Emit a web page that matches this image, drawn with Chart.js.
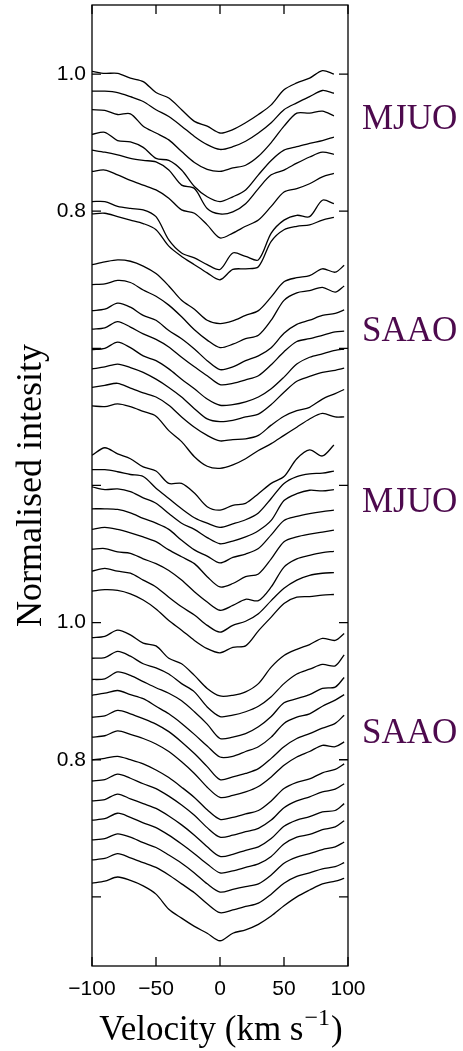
<!DOCTYPE html>
<html>
<head>
<meta charset="utf-8">
<script src="https://cdn.jsdelivr.net/npm/chart.js@4.4.1/dist/chart.umd.min.js"></script>
<style>
  html, body { margin: 0; padding: 0; background: #fff; }
  #wrap { width: 463px; height: 1051px; }
</style>
</head>
<body>
<div id="wrap"><canvas id="myChart" width="463" height="1051"></canvas></div>
<script>
'use strict';

// velocity grid (km/s) of the read-off points
const velocityMjuo = [-100, -90, -80, -70, -60, -50, -40, -30, -20, -10, 0, 10, 20, 30, 40, 50, 60, 70, 80, 89];
const velocitySaao = [-100, -90, -80, -70, -60, -50, -40, -30, -20, -10, 0, 10, 20, 30, 40, 50, 60, 70, 80, 90, 97];

// upper panel, MJUO spectra (normalised intensity incl. offsets)
const mjuoUpper = [
  [1.004, 1.001, 1.001, 0.994, 0.989, 0.973, 0.965, 0.948, 0.931, 0.924, 0.914, 0.919, 0.929, 0.941, 0.955, 0.977, 0.987, 0.994, 1.005, 1.000],
  [0.975, 0.975, 0.973, 0.967, 0.960, 0.948, 0.938, 0.924, 0.909, 0.897, 0.890, 0.894, 0.902, 0.914, 0.929, 0.948, 0.958, 0.967, 0.976, 0.972],
  [0.948, 0.947, 0.941, 0.942, 0.924, 0.914, 0.904, 0.887, 0.871, 0.861, 0.858, 0.863, 0.867, 0.880, 0.900, 0.924, 0.943, 0.943, 0.946, 0.939],
  [0.912, 0.915, 0.903, 0.901, 0.893, 0.877, 0.874, 0.860, 0.836, 0.821, 0.814, 0.821, 0.831, 0.853, 0.874, 0.889, 0.894, 0.899, 0.903, 0.908],
  [0.889, 0.886, 0.882, 0.877, 0.874, 0.872, 0.860, 0.838, 0.833, 0.804, 0.796, 0.799, 0.811, 0.833, 0.853, 0.860, 0.870, 0.879, 0.886, 0.883],
  [0.858, 0.860, 0.853, 0.845, 0.838, 0.831, 0.819, 0.802, 0.797, 0.780, 0.761, 0.768, 0.778, 0.787, 0.807, 0.828, 0.833, 0.840, 0.850, 0.855],
  [0.814, 0.814, 0.807, 0.804, 0.802, 0.792, 0.758, 0.739, 0.732, 0.722, 0.715, 0.739, 0.734, 0.729, 0.768, 0.787, 0.794, 0.792, 0.816, 0.811],
  [0.796, 0.797, 0.792, 0.787, 0.782, 0.773, 0.749, 0.734, 0.722, 0.710, 0.700, 0.715, 0.716, 0.719, 0.756, 0.773, 0.778, 0.780, 0.787, 0.791]
];

// upper panel, SAAO spectra
const saaoUpper = [
  [0.722, 0.726, 0.729, 0.727, 0.720, 0.709, 0.691, 0.670, 0.657, 0.641, 0.636, 0.640, 0.648, 0.655, 0.675, 0.697, 0.703, 0.706, 0.716, 0.711, 0.721],
  [0.693, 0.694, 0.699, 0.696, 0.685, 0.676, 0.663, 0.646, 0.627, 0.612, 0.601, 0.606, 0.614, 0.619, 0.641, 0.670, 0.681, 0.684, 0.689, 0.682, 0.691],
  [0.655, 0.657, 0.666, 0.660, 0.648, 0.641, 0.626, 0.614, 0.599, 0.582, 0.569, 0.573, 0.582, 0.589, 0.601, 0.622, 0.635, 0.641, 0.648, 0.651, 0.656],
  [0.628, 0.630, 0.639, 0.631, 0.621, 0.613, 0.602, 0.587, 0.573, 0.560, 0.547, 0.549, 0.554, 0.560, 0.576, 0.595, 0.610, 0.614, 0.619, 0.624, 0.625],
  [0.598, 0.600, 0.609, 0.601, 0.589, 0.582, 0.570, 0.555, 0.541, 0.526, 0.517, 0.518, 0.522, 0.529, 0.541, 0.558, 0.577, 0.587, 0.592, 0.597, 0.599],
  [0.570, 0.573, 0.577, 0.572, 0.565, 0.555, 0.543, 0.529, 0.512, 0.497, 0.493, 0.495, 0.500, 0.504, 0.518, 0.536, 0.552, 0.559, 0.565, 0.568, 0.571],
  [0.543, 0.546, 0.549, 0.542, 0.535, 0.529, 0.517, 0.500, 0.485, 0.473, 0.465, 0.467, 0.468, 0.473, 0.488, 0.501, 0.509, 0.514, 0.526, 0.534, 0.540],
  [0.516, 0.515, 0.519, 0.515, 0.508, 0.501, 0.480, 0.464, 0.442, 0.428, 0.425, 0.430, 0.439, 0.451, 0.461, 0.473, 0.485, 0.497, 0.505, 0.500, 0.500]
];

// lower panel, MJUO spectra
const mjuoLower = [
  [1.244, 1.255, 1.246, 1.239, 1.227, 1.221, 1.203, 1.203, 1.189, 1.169, 1.164, 1.171, 1.174, 1.188, 1.203, 1.213, 1.239, 1.252, 1.243, 1.259],
  [1.223, 1.223, 1.220, 1.216, 1.213, 1.196, 1.181, 1.166, 1.153, 1.145, 1.139, 1.144, 1.150, 1.160, 1.181, 1.203, 1.213, 1.217, 1.218, 1.221],
  [1.198, 1.194, 1.195, 1.191, 1.182, 1.174, 1.159, 1.145, 1.136, 1.124, 1.115, 1.119, 1.125, 1.134, 1.149, 1.178, 1.188, 1.193, 1.192, 1.194],
  [1.166, 1.166, 1.165, 1.160, 1.152, 1.145, 1.136, 1.120, 1.106, 1.097, 1.087, 1.095, 1.100, 1.108, 1.128, 1.149, 1.155, 1.159, 1.162, 1.164],
  [1.136, 1.139, 1.136, 1.131, 1.125, 1.118, 1.106, 1.096, 1.086, 1.067, 1.052, 1.057, 1.067, 1.071, 1.093, 1.118, 1.125, 1.129, 1.132, 1.135],
  [1.107, 1.108, 1.103, 1.101, 1.093, 1.086, 1.076, 1.062, 1.045, 1.030, 1.018, 1.025, 1.034, 1.032, 1.052, 1.081, 1.093, 1.098, 1.102, 1.104],
  [1.075, 1.079, 1.075, 1.072, 1.062, 1.052, 1.037, 1.023, 1.011, 0.996, 0.986, 0.996, 1.002, 1.013, 1.032, 1.050, 1.062, 1.069, 1.072, 1.073],
  [1.046, 1.048, 1.047, 1.042, 1.033, 1.020, 1.003, 0.989, 0.974, 0.962, 0.956, 0.964, 0.966, 0.988, 1.008, 1.028, 1.037, 1.038, 1.040, 1.041]
];

// lower panel, SAAO spectra
const saaoLower = [
  [0.978, 0.980, 0.989, 0.982, 0.970, 0.966, 0.948, 0.940, 0.923, 0.904, 0.893, 0.894, 0.899, 0.911, 0.935, 0.952, 0.961, 0.968, 0.977, 0.974, 0.984],
  [0.948, 0.949, 0.958, 0.951, 0.940, 0.934, 0.925, 0.911, 0.899, 0.877, 0.863, 0.865, 0.870, 0.878, 0.892, 0.911, 0.925, 0.932, 0.939, 0.937, 0.953],
  [0.917, 0.918, 0.928, 0.923, 0.914, 0.905, 0.897, 0.886, 0.870, 0.852, 0.831, 0.833, 0.838, 0.848, 0.863, 0.883, 0.889, 0.895, 0.904, 0.906, 0.920],
  [0.894, 0.897, 0.901, 0.895, 0.889, 0.878, 0.867, 0.853, 0.837, 0.820, 0.804, 0.805, 0.812, 0.819, 0.833, 0.853, 0.862, 0.867, 0.878, 0.887, 0.895],
  [0.862, 0.864, 0.872, 0.867, 0.860, 0.852, 0.841, 0.826, 0.809, 0.790, 0.771, 0.775, 0.780, 0.787, 0.802, 0.819, 0.831, 0.838, 0.846, 0.853, 0.865],
  [0.833, 0.835, 0.842, 0.837, 0.831, 0.823, 0.812, 0.797, 0.780, 0.760, 0.745, 0.748, 0.753, 0.761, 0.775, 0.792, 0.804, 0.812, 0.821, 0.819, 0.826],
  [0.800, 0.802, 0.805, 0.800, 0.794, 0.785, 0.774, 0.760, 0.745, 0.727, 0.713, 0.716, 0.721, 0.726, 0.740, 0.758, 0.767, 0.772, 0.781, 0.786, 0.794],
  [0.769, 0.771, 0.779, 0.773, 0.765, 0.758, 0.747, 0.734, 0.719, 0.701, 0.687, 0.690, 0.695, 0.700, 0.712, 0.730, 0.740, 0.746, 0.753, 0.757, 0.765],
  [0.740, 0.742, 0.750, 0.743, 0.736, 0.729, 0.718, 0.705, 0.690, 0.673, 0.659, 0.662, 0.668, 0.673, 0.685, 0.703, 0.712, 0.717, 0.724, 0.726, 0.736],
  [0.712, 0.714, 0.722, 0.716, 0.708, 0.701, 0.690, 0.677, 0.663, 0.648, 0.635, 0.638, 0.643, 0.648, 0.659, 0.677, 0.687, 0.691, 0.698, 0.702, 0.711],
  [0.683, 0.685, 0.692, 0.687, 0.679, 0.672, 0.661, 0.649, 0.635, 0.619, 0.607, 0.611, 0.615, 0.619, 0.632, 0.649, 0.658, 0.663, 0.669, 0.673, 0.680],
  [0.654, 0.656, 0.663, 0.657, 0.650, 0.643, 0.632, 0.619, 0.606, 0.590, 0.577, 0.581, 0.586, 0.591, 0.604, 0.620, 0.630, 0.635, 0.641, 0.644, 0.650],
  [0.620, 0.623, 0.629, 0.624, 0.616, 0.604, 0.582, 0.569, 0.557, 0.547, 0.536, 0.547, 0.552, 0.560, 0.572, 0.587, 0.600, 0.610, 0.619, 0.623, 0.627]
];

// the lower panel sits 0.8 below the upper one on the shared axis
const lowerPanelShift = 0.8;

const xTickValues = [-100, -50, 0, 50, 100];
const yTickValues = [1.0, 0.8, 0.6, 0.4, 0.2, 0.0, -0.2];
const yTickLabels = ['1.0', '0.8', '', '', '1.0', '0.8', ''];

const groupLabels = ['MJUO', 'SAAO', 'MJUO', 'SAAO'];
const groupLabelLevels = [0.920, 0.611, 0.362, 0.024];

const xTitle = ['Velocity (km s', '\u22121', ')'];
const yTitle = 'Normalised intesity';

const serif = '"Liberation Serif", "Times New Roman", serif';

function buildSeries(vels, curves, shift) {
  return curves.map(vals => ({
    data: vals.map((val, i) => ({x: vels[i], y: val - shift})),
    borderColor: '#000',
    borderWidth: 1.3,
    pointRadius: 0,
    tension: 0.3,
    fill: false
  }));
}

let datasets = [].concat(
  buildSeries(velocityMjuo, mjuoUpper, 0),
  buildSeries(velocitySaao, saaoUpper, 0),
  buildSeries(velocityMjuo, mjuoLower, lowerPanelShift),
  buildSeries(velocitySaao, saaoLower, lowerPanelShift)
);

// frame, inward tick marks, titles and group names
const framePlugin = {
  id: 'frame',
  afterDraw(chart) {
    const {ctx, chartArea: a, scales: {x, y}} = chart;
    ctx.save();
    ctx.strokeStyle = '#000';
    ctx.lineWidth = 1.3;
    ctx.strokeRect(a.left, a.top, a.right - a.left, a.bottom - a.top);
    const len = 9;
    ctx.beginPath();
    xTickValues.forEach(v => {
      const px = x.getPixelForValue(v);
      ctx.moveTo(px, a.bottom);
      ctx.lineTo(px, a.bottom - len);
      ctx.moveTo(px, a.top);
      ctx.lineTo(px, a.top + len);
    });
    yTickValues.forEach(v => {
      const py = y.getPixelForValue(v);
      ctx.moveTo(a.left, py);
      ctx.lineTo(a.left + len, py);
      ctx.moveTo(a.right, py);
      ctx.lineTo(a.right - len, py);
    });
    ctx.stroke();

    // x title with superscript
    ctx.fillStyle = '#000';
    ctx.textAlign = 'left';
    ctx.textBaseline = 'alphabetic';
    ctx.font = '35px ' + serif;
    const w1 = ctx.measureText(xTitle[0]).width;
    const w3 = ctx.measureText(xTitle[2]).width;
    ctx.font = '24px ' + serif;
    const w2 = ctx.measureText(xTitle[1]).width;
    const x0 = (a.left + a.right) / 2 - (w1 + w2 + w3) / 2;
    const base = 1040;
    ctx.font = '35px ' + serif;
    ctx.fillText(xTitle[0], x0, base);
    ctx.font = '24px ' + serif;
    ctx.fillText(xTitle[1], x0 + w1 + 1, base - 15);
    ctx.font = '35px ' + serif;
    ctx.fillText(xTitle[2], x0 + w1 + w2 + 2, base);

    // y title
    ctx.save();
    ctx.translate(41, (a.top + a.bottom) / 2);
    ctx.rotate(-Math.PI / 2);
    ctx.textAlign = 'center';
    ctx.font = '36px ' + serif;
    ctx.fillText(yTitle, 0, 0);
    ctx.restore();

    // observatory names
    ctx.fillStyle = '#4d0a4d';
    ctx.font = '35px ' + serif;
    groupLabels.forEach((txt, i) => {
      ctx.fillText(txt, a.right + 14, y.getPixelForValue(groupLabelLevels[i]));
    });
    ctx.restore();
  }
};

Chart.defaults.font.family = '"Liberation Sans", Arial, sans-serif';
Chart.defaults.color = '#000';

const ctx = document.getElementById('myChart');
new Chart(ctx, {
  type: 'line',
  data: {datasets: datasets},
  options: {
    responsive: false,
    animation: false,
    devicePixelRatio: 1,
    layout: {padding: {top: 5, right: 115, left: 0, bottom: 0}},
    plugins: {legend: {display: false}, tooltip: {enabled: false}},
    scales: {
      x: {
        type: 'linear',
        min: -100,
        max: 100,
        grid: {display: false, drawTicks: false},
        border: {display: false},
        afterBuildTicks: scale => { scale.ticks = xTickValues.map(v => ({value: v})); },
        afterFit: scale => { scale.height = 85; scale.paddingLeft = 0; scale.paddingRight = 0; },
        ticks: {
          autoSkip: false,
          maxRotation: 0,
          padding: 11,
          font: {size: 21},
          callback: v => (v < 0 ? '\u2212' + Math.abs(v) : String(v))
        }
      },
      y: {
        type: 'linear',
        min: -0.3008,
        max: 1.1007,
        grid: {display: false, drawTicks: false},
        border: {display: false},
        afterBuildTicks: scale => { scale.ticks = yTickValues.map(v => ({value: v})); },
        afterFit: scale => { scale.width = 92; scale.paddingTop = 0; scale.paddingBottom = 0; },
        ticks: {
          autoSkip: false,
          padding: 6,
          font: {size: 21},
          callback: (v, i) => yTickLabels[i]
        }
      }
    }
  },
  plugins: [framePlugin]
});
</script>
</body>
</html>
